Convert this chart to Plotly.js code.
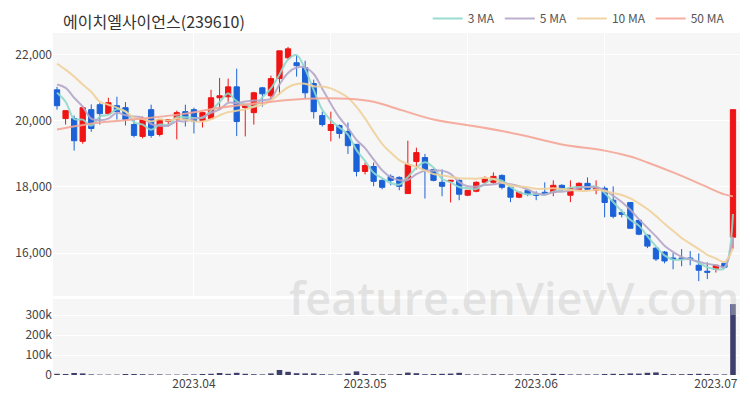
<!DOCTYPE html>
<html><head><meta charset="utf-8">
<script src="https://cdn.plot.ly/plotly-3.0.1.min.js"></script>
<style>html,body{margin:0;padding:0;background:#fff}#chart{width:750px;height:400px}</style>
</head><body><div id="chart"></div>
<script>
const dates = [
 '2023-03-10','2023-03-13','2023-03-14','2023-03-15','2023-03-16','2023-03-17','2023-03-20','2023-03-21','2023-03-22','2023-03-23',
 '2023-03-24','2023-03-27','2023-03-28','2023-03-29','2023-03-30','2023-03-31','2023-04-03','2023-04-04','2023-04-05','2023-04-06',
 '2023-04-07','2023-04-10','2023-04-11','2023-04-12','2023-04-13','2023-04-14','2023-04-17','2023-04-18','2023-04-19','2023-04-20',
 '2023-04-21','2023-04-24','2023-04-25','2023-04-26','2023-04-27','2023-04-28','2023-05-02','2023-05-03','2023-05-04','2023-05-08',
 '2023-05-09','2023-05-10','2023-05-11','2023-05-12','2023-05-15','2023-05-16','2023-05-17','2023-05-18','2023-05-19','2023-05-22',
 '2023-05-23','2023-05-24','2023-05-25','2023-05-26','2023-05-30','2023-05-31','2023-06-01','2023-06-02','2023-06-05','2023-06-07',
 '2023-06-08','2023-06-09','2023-06-12','2023-06-13','2023-06-14','2023-06-15','2023-06-16','2023-06-19','2023-06-20','2023-06-21',
 '2023-06-22','2023-06-23','2023-06-26','2023-06-27','2023-06-28','2023-06-29','2023-06-30','2023-07-03','2023-07-04','2023-07-05'
];
const openP = [
 20940,20070,20070,19380,20340,20490,20220,20460,20400,19890,
 19530,20340,19590,19990,20040,20280,20340,20010,20070,20700,
 20730,21030,20400,20250,21000,20760,21280,21910,21760,21610,
 21130,20160,19710,19860,19680,19290,18470,18620,18200,18320,
 18290,17800,18770,18890,18530,18140,18170,18200,17750,17870,
 18140,18140,18350,17990,17690,17900,17780,17840,17840,18050,
 17750,17930,18110,17900,17960,17600,17230,17530,16990,16540,
 16150,16030,15850,15850,15850,15630,15450,15510,15690,16480
];
const highP = [
 21030,20330,20160,20460,20500,20550,20700,20730,20570,20040,
 20130,20490,20040,20040,20310,20490,20400,20280,20940,21300,
 21280,21580,20460,20880,21030,21370,22120,22240,22000,21820,
 21250,20280,20280,19890,19950,19300,18740,18740,18230,18380,
 18320,19400,19190,19000,18560,18530,18200,18230,17900,18170,
 18320,18440,18380,17990,17840,17930,17870,18140,18200,18080,
 18200,18140,18290,18200,18020,18020,17320,17530,17020,16570,
 16180,16060,16000,16120,16060,15990,15720,15630,15690,20340
];
const lowP = [
 20340,19890,19100,19310,19670,19890,20220,20040,19860,19500,
 19470,19490,19530,19830,19440,19830,19620,19800,20040,20340,
 20580,19540,19530,19890,20430,20640,20790,21850,21340,20670,
 20070,19830,19380,19470,19000,18320,18380,18020,17930,18050,
 17900,17800,18530,17650,18170,17720,17530,17600,17720,17840,
 18080,18080,17930,17540,17660,17720,17600,17750,17720,17870,
 17540,17900,17900,17780,17080,17050,17080,16750,16540,16150,
 15760,15690,15510,15600,15630,15150,15210,15410,15570,16120
];
const closeP = [
 20460,20310,19400,20400,19770,20220,20550,20280,20040,19560,
 20070,19560,20040,20040,20250,20040,19980,20250,20700,20760,
 21030,19980,20460,20850,20820,21280,22120,22180,21670,20850,
 20280,19890,19890,19620,19250,18470,18650,18170,17990,18200,
 18020,18680,19040,18530,18200,18020,18200,17780,17900,18140,
 18260,18320,17990,17690,17840,17780,17750,17780,18050,17930,
 17960,18110,17930,17990,17530,17110,17170,16750,16570,16210,
 15820,15760,15820,15820,15820,15480,15420,15630,15570,20340
];
const volume = [
 6000,5000,10000,8000,3000,2000,2000,2000,5000,5000,
 4000,3000,3000,2000,2000,3000,3000,5000,6000,10000,
 6000,11000,6000,4000,3000,8000,25000,16000,9000,8000,
 8000,4000,3000,3000,7000,18000,5000,4000,3000,3000,
 5000,12000,9000,4000,5000,6000,7000,11000,3000,3000,
 3000,4000,4000,3000,3000,3000,4000,4000,6000,5000,
 3000,3000,3000,3000,5000,6000,5000,8000,7000,11000,
 13000,5000,4000,4000,5000,6000,5000,3000,3000,355000
];
// moving-average values before a full window exists
const ma3Head = [20850, 20580];
const ma5Head = [21100, 21000, 20700, 20430];
const ma10Head = [21730, 21550, 21340, 21100, 20880, 20580, 20490, 20400, 20280];
const ma50Dates = ['2023-03-10','2023-03-17','2023-03-24','2023-03-31','2023-04-06','2023-04-13','2023-04-20','2023-04-27',
 '2023-05-03','2023-05-08','2023-05-15','2023-05-22','2023-05-30','2023-06-07','2023-06-14','2023-06-19','2023-06-21',
 '2023-06-26','2023-06-29','2023-07-04','2023-07-05'];
const ma50Vals = [19740,19950,20070,20220,20400,20550,20670,20670,20580,20430,20040,19830,19590,19285,19100,18920,18740,
 18440,18110,17775,17715];
const gridDates = ['2023-04-03','2023-04-25','2023-05-19','2023-06-14'];
const monthTickDates = ['2023-04-03','2023-05-02','2023-06-01','2023-07-03'];
const monthTickText = ['2023.04','2023.05','2023.06','2023.07'];

function movingAvg(n, head){
  return closeP.map((c,i)=>{
    if(i < n-1) return head[i];
    let s=0; for(let k=i-n+1;k<=i;k++) s+=closeP[k];
    return s/n;
  });
}

const FONT = '"Noto Sans CJK KR", "Noto Sans", sans-serif';
const traces = [
 {type:'candlestick', x:dates, open:openP, high:highP, low:lowP, close:closeP,
  xaxis:'x', yaxis:'y', showlegend:false, hoverinfo:'skip',
  increasing:{line:{color:'#f01414', width:1}, fillcolor:'#f01414'},
  decreasing:{line:{color:'#1b62d8', width:1}, fillcolor:'#1b62d8'}},
 {type:'scatter', mode:'lines', name:'3 MA', x:dates, y:movingAvg(3, ma3Head), xaxis:'x', yaxis:'y',
  line:{color:'#8fd8ca', width:2, shape:'spline'}, opacity:0.9},
 {type:'scatter', mode:'lines', name:'5 MA', x:dates, y:movingAvg(5, ma5Head), xaxis:'x', yaxis:'y',
  line:{color:'#b5a6c9', width:2, shape:'spline'}, opacity:0.9},
 {type:'scatter', mode:'lines', name:'10 MA', x:dates, y:movingAvg(10, ma10Head), xaxis:'x', yaxis:'y',
  line:{color:'#efd09a', width:2, shape:'spline'}, opacity:0.9},
 {type:'scatter', mode:'lines', name:'50 MA', x:ma50Dates, y:ma50Vals, xaxis:'x', yaxis:'y',
  line:{color:'#f4a596', width:2, shape:'spline'}, opacity:0.9},
 {type:'bar', x:dates, y:volume, xaxis:'x2', yaxis:'y2', showlegend:false,
  marker:{color:'#3d3e6c'}, hoverinfo:'skip'}
];

const layout = {
  width:750, height:400,
  margin:{l:53, r:10, t:33, b:25, autoexpand:false},
  paper_bgcolor:'#ffffff', plot_bgcolor:'#f6f6f6',
  font:{family:FONT, size:12, color:'#444'},
  title:{text:'에이치엘사이언스(239610)', x:63/750, xanchor:'left', y:1-22/400, yanchor:'middle',
    font:{family:FONT, size:16, color:'#333'}},
  showlegend:true,
  legend:{orientation:'h', x:0.985, xanchor:'right', y:1.0, yanchor:'bottom',
    font:{family:FONT, size:12, color:'#555'}, bgcolor:'rgba(0,0,0,0)'},
  boxgap:0.12,
  bargap:0.35,
  xaxis:{type:'category', domain:[0,1], anchor:'y', range:[-0.47,79.82],
    rangeslider:{visible:false}, showticklabels:false, tickmode:'array', tickvals:gridDates,
    showgrid:true, gridcolor:'#ffffff', gridwidth:1, ticks:'', zeroline:false, showline:false},
  xaxis2:{type:'category', domain:[0,1], anchor:'y2', matches:'x', range:[-0.47,79.82],
    tickmode:'array', tickvals:monthTickDates, ticktext:monthTickText, showgrid:false,
    ticks:'', tickfont:{family:FONT, size:12, color:'#444'}, showline:false, zeroline:false},
  yaxis:{domain:[0.231,1], range:[14700,22660], tickmode:'array', tickvals:[16000,18000,20000,22000],
    tickformat:',', gridcolor:'#ffffff', gridwidth:1, zeroline:false, ticks:'',
    tickfont:{family:FONT, size:12, color:'#444'}},
  yaxis2:{domain:[0,0.222], range:[0,380000], tickmode:'array', tickvals:[0,100000,200000,300000],
    ticktext:['0','100k','200k','300k'], gridcolor:'#ffffff', gridwidth:1, zeroline:false, ticks:'',
    tickfont:{family:FONT, size:12, color:'#444'}},
  annotations:[{text:'feature.enVievV.com', xref:'paper', yref:'paper', x:0.672, y:0.228,
    xanchor:'center', yanchor:'middle', showarrow:false,
    font:{family:'"Open Sans", "Noto Sans", sans-serif', size:45, weight:600, color:'rgba(200,200,200,0.45)'}}]
};

Plotly.newPlot('chart', traces, layout, {staticPlot:true, displayModeBar:false});
</script>
</body></html>
